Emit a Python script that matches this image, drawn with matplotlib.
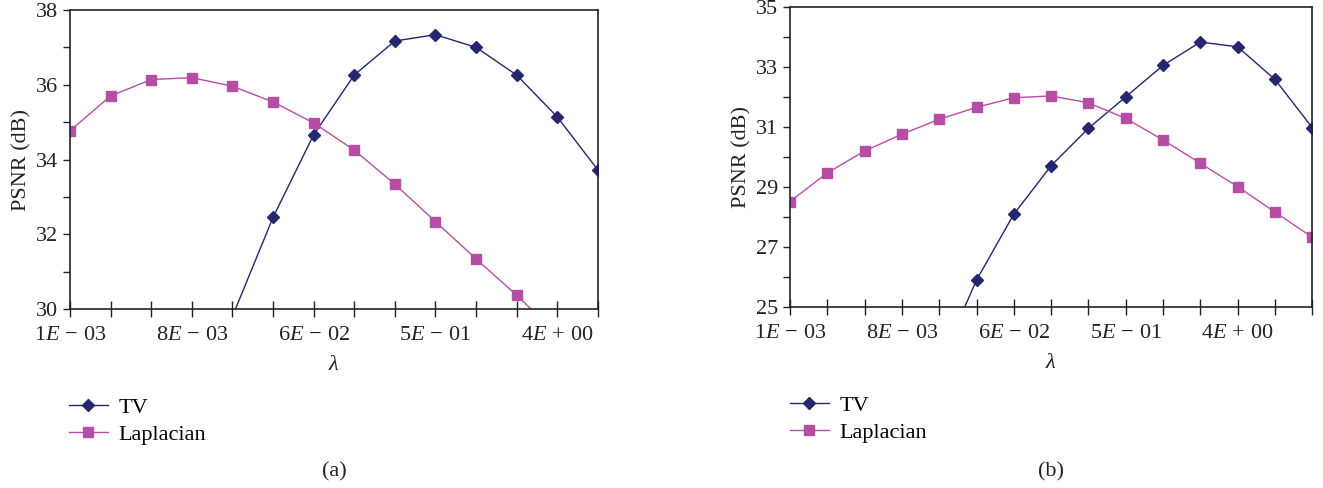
import numpy as np
import matplotlib
matplotlib.use("Agg")
import matplotlib.pyplot as plt

# valores (PSNR en dB), lambda = 1E-03 * 2^k
lap_a = [34.77, 35.70, 36.14, 36.19, 35.96, 35.54, 34.98, 34.25, 33.34, 32.34, 31.34, 30.37, 29.32, 28.3]
tv_a = [np.nan, np.nan, np.nan, np.nan, 29.8, 32.45, 34.66, 36.26, 37.17, 37.34, 37.00, 36.26, 35.14, 33.72]

lap_b = [28.51, 29.47, 30.20, 30.76, 31.26, 31.66, 31.98, 32.04, 31.81, 31.29, 30.57, 29.79, 29.01, 28.16, 27.32]
tv_b = [np.nan, np.nan, np.nan, np.nan, 23.05, 25.89, 28.09, 29.71, 30.96, 32.01, 33.06, 33.84, 33.68, 32.59, 30.98]

tick_labels = [r"1E\,-\,03", r"8E\,-\,03", r"6E\,-\,02", r"5E\,-\,01", r"4E\,+\,00"]
tick_idx = [0, 3, 6, 9, 12]

TV_COLOR = "#252670"
LAP_COLOR = "#b64ea6"

plt.rcParams["font.family"] = ["Liberation Serif", "DejaVu Serif"]
plt.rcParams["mathtext.fontset"] = "custom"
plt.rcParams["mathtext.rm"] = "Liberation Serif"
plt.rcParams["mathtext.it"] = "Liberation Serif:italic"
plt.rcParams["font.size"] = 16

fig = plt.figure(figsize=(13.23, 4.88), dpi=100)

panels = [
    # (rect, tv, lap, ylim, yticks, legend anchor, letter)
    ([0.0529, 0.3668, 0.399, 0.6127], tv_a, lap_a, (30, 38), np.arange(30, 39, 2), (0.052, 0.186), "(a)"),
    ([0.5971, 0.3715, 0.3948, 0.6135], tv_b, lap_b, (25, 35), np.arange(25, 36, 2), (0.597, 0.190), "(b)"),
]

for rect, tv, lap, ylim, yticks, anchor, letter in panels:
    ax = fig.add_axes(rect)
    x = np.arange(len(lap))
    ax.plot(x, tv, color=TV_COLOR, lw=1.0, marker="D", ms=6, label="TV")
    ax.plot(x, lap, color=LAP_COLOR, lw=1.0, marker="s", ms=7, label="Laplacian")

    ax.set_xlim(0, len(lap) - 1)
    ax.set_ylim(*ylim)
    ax.set_xticks(x)
    ax.set_xticklabels(["$%s$" % tick_labels[tick_idx.index(i)] if i in tick_idx else "" for i in x])
    ax.set_yticks(yticks)
    ax.set_yticks(np.arange(ylim[0] + 1, ylim[1], 2), minor=True)
    ax.tick_params(axis="x", direction="inout", length=11, width=1, pad=7, colors="#222222", labelcolor="#222222")
    ax.tick_params(axis="y", which="both", direction="out", length=5, width=1, colors="#222222", labelcolor="#222222")
    for sp in ax.spines.values():
        sp.set_linewidth(1.2)
        sp.set_color("#222222")

    ax.set_ylabel("PSNR (dB)", color="#222222", labelpad=3)
    ax.set_xlabel(r"$\lambda$", color="#222222", labelpad=8)

    fig.legend(handles=ax.get_lines(), loc="upper left", bbox_to_anchor=anchor,
               frameon=False, handlelength=1.75, labelspacing=0.3, handletextpad=0.5,
               borderaxespad=0, borderpad=0)
    fig.text(rect[0] + rect[2] / 2, 0.033, letter, ha="center", va="center", color="#222222")

plt.savefig("out.png", dpi=100)
